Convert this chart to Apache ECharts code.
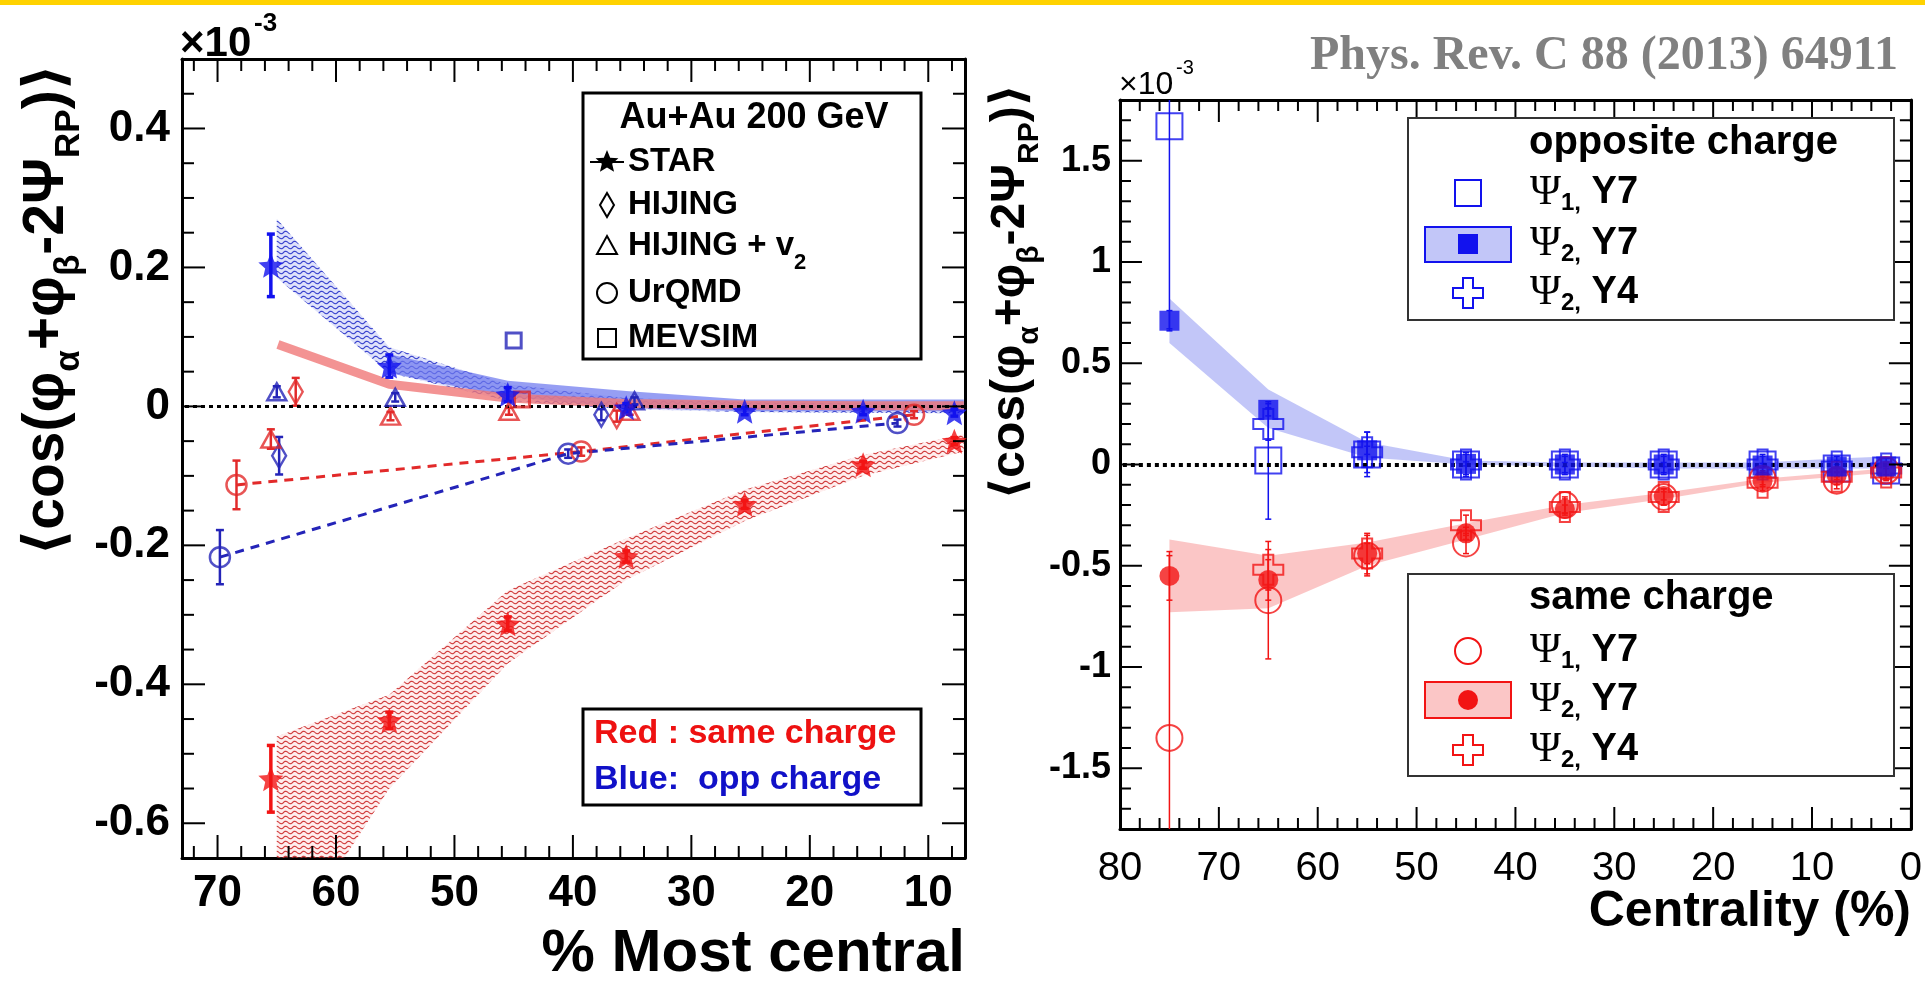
<!DOCTYPE html>
<html>
<head>
<meta charset="utf-8">
<title>charge dependent correlator vs centrality</title>
<script src="https://cdn.jsdelivr.net/npm/echarts@6/dist/echarts.min.js"></script>
<style>
html, body { margin: 0; padding: 0; background: #fff; }
#chart { width: 1925px; height: 989px; }
</style>
</head>
<body>
<div id="chart"></div>
<script>
var FONT = '"Liberation Sans", "DejaVu Sans", Arial, sans-serif';
var SERIF = '"Liberation Serif", "DejaVu Serif", serif';
var RED = '#f21414', BLUE = '#1212ee', NAVY = '#2424b8', DRED = '#e22a2a';

// ---------- left panel: Au+Au 200 GeV, values x1e-3 ----------
var leftXRange = [6.9, 73];
var leftYRange = [-0.65, 0.5];
var leftXMajor = [10, 20, 30, 40, 50, 60, 70];
var leftXMinor = [8, 12, 14, 16, 18, 22, 24, 26, 28, 32, 34, 36, 38, 42, 44, 46, 48, 52, 54, 56, 58, 62, 64, 66, 68, 72];
var leftYMajor = [-0.6, -0.4, -0.2, 0, 0.2, 0.4];
var leftYMinor = [-0.55, -0.5, -0.45, -0.35, -0.3, -0.25, -0.15, -0.1, -0.05, 0.05, 0.1, 0.15, 0.25, 0.3, 0.35, 0.45];

// [% most central, value, stat error]
var starSame = [[65.5, -0.536, 0.048], [55.5, -0.452, 0.012], [45.5, -0.313, 0.010], [35.5, -0.216, 0.008], [25.5, -0.141, 0.006], [15.5, -0.084, 0.005], [7.8, -0.050, 0.005]];
var starOpp = [[65.5, 0.203, 0.045], [55.5, 0.058, 0.016], [45.5, 0.017, 0.010], [35.5, -0.002, 0.006], [25.5, -0.007, 0.005], [15.5, -0.007, 0.005], [7.8, -0.009, 0.005]];
var hijingSame = [[63.4, 0.021, 0.020], [36.3, -0.014, 0.008]];
var hijingOpp = [[64.8, -0.071, 0.027], [37.6, -0.012, 0.008]];
var hijingV2Same = [[65.5, -0.047, 0.014], [55.4, -0.014, 0.006], [45.4, -0.007, 0.005], [35.2, -0.007, 0.005]];
var hijingV2Opp = [[65.0, 0.021, 0.008], [55.0, 0.013, 0.006], [34.8, 0.008, 0.005]];
var urqmdSame = [[68.4, -0.113, 0.035], [39.3, -0.065, 0.006], [11.2, -0.012, 0.005]];
var urqmdOpp = [[69.8, -0.217, 0.039], [40.4, -0.068, 0.006], [12.6, -0.024, 0.005]];
var mevsimSame = [[44.3, 0.010, 0.006]];
var mevsimOpp = [[45.0, 0.095, 0.008]];

// STAR systematic bands
var starSysX = [65, 55.5, 45.5, 35.5, 25.5, 15.5, 7];
var starSameSysHi = [-0.475, -0.415, -0.265, -0.19, -0.12, -0.07, -0.04];
var starSameSysLo = [-0.80, -0.55, -0.37, -0.25, -0.165, -0.10, -0.065];
var starOppSysHi = [0.27, 0.085, 0.032, 0.012, 0.006, 0.004, 0.003];
var starOppSysLo = [0.185, 0.048, 0.008, -0.004, -0.008, -0.009, -0.010];
var oppBandX = [55.5, 45.5, 35.5, 25.5, 15.5, 7];
var oppBandHi = [0.075, 0.037, 0.022, 0.010, 0.010, 0.010];
var oppBandLo = [0.048, 0.014, -0.002, -0.007, -0.007, -0.007];
var sameLineX = [64.9, 55.5, 45.5, 35.5, 25.5, 15.5, 7];
var sameLineY = [0.089, 0.032, 0.012, 0.004, 0.002, 0.001, 0.001];

// ---------- right panel: centrality (%), values x1e-3 ----------
var rightXRange = [0, 80];
var rightYRange = [-1.8, 1.8];
var rightXMajor = [0, 10, 20, 30, 40, 50, 60, 70, 80];
var rightXMinor = [2, 4, 6, 8, 12, 14, 16, 18, 22, 24, 26, 28, 32, 34, 36, 38, 42, 44, 46, 48, 52, 54, 56, 58, 62, 64, 66, 68, 72, 74, 76, 78];
var rightYMajor = [-1.5, -1, -0.5, 0, 0.5, 1, 1.5];
var rightYMinor = [-1.7, -1.6, -1.4, -1.3, -1.2, -1.1, -0.9, -0.8, -0.7, -0.6, -0.4, -0.3, -0.2, -0.1, 0.1, 0.2, 0.3, 0.4, 0.6, 0.7, 0.8, 0.9, 1.1, 1.2, 1.3, 1.4, 1.6, 1.7];
var cent = [75, 65, 55, 45, 35, 25, 15, 7.5, 2.5];
var centY4 = [65, 55, 45, 35, 25, 15, 7.5, 2.5];
var oppPsi1 = [1.67, 0.02, 0.05, 0.0, 0.0, 0.0, 0.0, -0.02, -0.03];
var oppPsi1Err = [1.0, 0.29, 0.11, 0.05, 0.04, 0.04, 0.04, 0.04, 0.04];
var oppPsi2 = [0.71, 0.27, 0.07, 0.003, 0.0, 0.0, -0.005, -0.01, -0.01];
var oppPsi2Err = [0.05, 0.03, 0.02, 0.01, 0.01, 0.01, 0.01, 0.01, 0.01];
var oppY4 = [0.2, 0.06, 0.0, 0.0, 0.0, 0.0, -0.01, -0.02];
var oppY4Err = [0.08, 0.1, 0.06, 0.05, 0.05, 0.05, 0.05, 0.05];
var samePsi1 = [-1.35, -0.67, -0.45, -0.39, -0.2, -0.16, -0.07, -0.08, -0.03];
var samePsi1Err = [0.9, 0.29, 0.1, 0.05, 0.04, 0.04, 0.04, 0.04, 0.04];
var samePsi2 = [-0.55, -0.57, -0.44, -0.34, -0.22, -0.155, -0.08, -0.054, -0.03];
var samePsi2Err = [0.12, 0.1, 0.05, 0.03, 0.02, 0.02, 0.02, 0.02, 0.02];
var sameY4 = [-0.52, -0.44, -0.30, -0.21, -0.16, -0.09, -0.06, -0.04];
var sameY4Err = [0.1, 0.1, 0.05, 0.04, 0.04, 0.04, 0.04, 0.04];
var oppSysHi = [0.82, 0.37, 0.11, 0.02, 0.01, 0.01, 0.01, 0.03, 0.04];
var oppSysLo = [0.6, 0.18, 0.035, 0.0, -0.01, -0.02, -0.02, -0.02, -0.02];
var sameSysHi = [-0.37, -0.45, -0.385, -0.29, -0.2, -0.14, -0.07, -0.04, -0.02];
var sameSysLo = [-0.73, -0.71, -0.5, -0.37, -0.24, -0.17, -0.09, -0.06, -0.04];

var STAR_PATH = 'path://M0,-10L2.645,-3.64L9.51,-3.09L4.28,1.39L5.88,8.09L0,4.5L-5.88,8.09L-4.28,1.39L-9.51,-3.09L-2.645,-3.64Z';
var CROSS_PATH = 'path://M-1,-3L1,-3L1,-1L3,-1L3,1L1,1L1,3L-1,3L-1,1L-3,1L-3,-1L-1,-1Z';

// plot boxes in pixels
var LEFT_BOX = { left: 182, top: 59, width: 783, height: 799 };
var RIGHT_BOX = { left: 1120, top: 100, width: 792, height: 729 };

function wave(color) {
    var c = document.createElement('canvas');
    c.width = 9; c.height = 5;
    var g = c.getContext('2d');
    g.strokeStyle = color; g.lineWidth = 1.1;
    g.beginPath();
    for (var i = 0; i <= 9; i++) {
        var yy = 2.5 + 1.3 * Math.sin(i / 9 * Math.PI * 2);
        if (i === 0) g.moveTo(i, yy); else g.lineTo(i, yy);
    }
    g.stroke();
    return c;
}
var redWave = { image: wave('rgba(200,30,30,0.85)'), repeat: 'repeat' };
var blueWave = { image: wave('rgba(40,50,200,0.9)'), repeat: 'repeat' };

function zip(xs, ys, es) {
    return xs.map(function (x, i) { return [x, ys[i], es ? es[i] : 0]; });
}
function xy(pts) { return pts.map(function (p) { return [p[0], p[1]]; }); }

// ---------- axes: frame line on every side, labels on bottom/left ----------
function axis(grid, pos, range, inv, vals, label) {
    var a = {
        type: 'value', gridIndex: grid, position: pos, min: range[0], max: range[1], inverse: inv,
        axisLine: { show: true, onZero: false, lineStyle: { color: '#000', width: 3 } },
        splitLine: { show: false }, axisTick: { show: false }, axisLabel: { show: false }
    };
    if (label) a.axisLabel = Object.assign({ show: true, customValues: vals, color: '#000', fontFamily: FONT }, label);
    return a;
}
var xAxes = [
    axis(0, 'bottom', leftXRange, true, leftXMajor, { fontSize: 44, fontWeight: 'bold', margin: 14 }),
    axis(0, 'top', leftXRange, true, leftXMajor),
    axis(1, 'bottom', rightXRange, true, rightXMajor, { fontSize: 40, margin: 20 }),
    axis(1, 'top', rightXRange, true, rightXMajor)
];
var yAxes = [
    axis(0, 'left', leftYRange, false, leftYMajor, { fontSize: 44, fontWeight: 'bold', margin: 12 }),
    axis(0, 'right', leftYRange, false, leftYMajor),
    axis(1, 'left', rightYRange, false, rightYMajor, { fontSize: 36, fontWeight: 'bold', margin: 9 }),
    axis(1, 'right', rightYRange, false, rightYMajor)
];

// ---------- series helpers (panel p uses xAxis/yAxis index 2p) ----------
function band(panel, xs, lo, hi, fills, z) {
    return {
        type: 'custom', xAxisIndex: panel * 2, yAxisIndex: panel * 2, clip: true, silent: true, z: z,
        data: xs.map(function (x, i) { return [x, lo[i], hi[i]]; }),
        renderItem: function (params, api) {
            if (params.dataIndexInside !== 0) return null;
            var n = params.dataInsideLength, pts = [], i;
            for (i = 0; i < n; i++) pts.push(api.coord([api.value(0, i), api.value(2, i)]));
            for (i = n - 1; i >= 0; i--) pts.push(api.coord([api.value(0, i), api.value(1, i)]));
            return {
                type: 'group',
                children: fills.map(function (f) {
                    return { type: 'polygon', shape: { points: pts }, style: { fill: f, stroke: null } };
                })
            };
        }
    };
}
// vertical bars [x, y, half-height]
function errBars(panel, pts, color, w, cap, z) {
    return {
        type: 'custom', xAxisIndex: panel * 2, yAxisIndex: panel * 2, clip: true, silent: true, z: z,
        data: pts,
        renderItem: function (params, api) {
            var x = api.value(0), y = api.value(1), e = api.value(2);
            var cs = params.coordSys;
            var p1 = api.coord([x, y + e]), p2 = api.coord([x, y - e]);
            var top = Math.max(p1[1], cs.y), bot = Math.min(p2[1], cs.y + cs.height);
            var ch = [{ type: 'line', shape: { x1: p1[0], y1: top, x2: p1[0], y2: bot }, style: { stroke: color, lineWidth: w } }];
            if (cap) {
                if (p1[1] >= cs.y) ch.push({ type: 'line', shape: { x1: p1[0] - cap, y1: p1[1], x2: p1[0] + cap, y2: p1[1] }, style: { stroke: color, lineWidth: w } });
                if (p2[1] <= cs.y + cs.height) ch.push({ type: 'line', shape: { x1: p2[0] - cap, y1: p2[1], x2: p2[0] + cap, y2: p2[1] }, style: { stroke: color, lineWidth: w } });
            }
            return { type: 'group', children: ch };
        }
    };
}
// horizontal bars [x, y, half-width]
function hBars(panel, pts, color, w, z) {
    return {
        type: 'custom', xAxisIndex: panel * 2, yAxisIndex: panel * 2, clip: true, silent: true, z: z,
        data: pts,
        renderItem: function (params, api) {
            var x = api.value(0), y = api.value(1), e = api.value(2);
            var p1 = api.coord([x - e, y]), p2 = api.coord([x + e, y]);
            return { type: 'group', children: [{ type: 'line', shape: { x1: p1[0], y1: p1[1], x2: p2[0], y2: p2[1] }, style: { stroke: color, lineWidth: w } }] };
        }
    };
}
// inward frame ticks on all four sides, expressed in data units of the panel
function tickSeries(panel, box, xr, yr, xMaj, xMin, yMaj, yMin, majLen, minLen) {
    var xu = (xr[1] - xr[0]) / box.width, yu = (yr[1] - yr[0]) / box.height;
    var vt = [], ht = [];
    function xt(v, len) { var h = len * yu / 2; vt.push([v, yr[0] + h, h]); vt.push([v, yr[1] - h, h]); }
    function yt(v, len) { var h = len * xu / 2; ht.push([xr[0] + h, v, h]); ht.push([xr[1] - h, v, h]); }
    xMaj.forEach(function (v) { xt(v, majLen); });
    xMin.forEach(function (v) { xt(v, minLen); });
    yMaj.forEach(function (v) { yt(v, majLen); });
    yMin.forEach(function (v) { yt(v, minLen); });
    return [errBars(panel, vt, '#000', 2, 0, 20), hBars(panel, ht, '#000', 2, 20)];
}
function marks(panel, pts, symbol, size, color, open, bw, z) {
    return {
        type: 'scatter', xAxisIndex: panel * 2, yAxisIndex: panel * 2, silent: true, z: z,
        symbol: symbol, symbolSize: size,
        itemStyle: open ? { color: 'rgba(255,255,255,0)', borderColor: color, borderWidth: bw } : { color: color },
        data: xy(pts)
    };
}
function zeroLine(panel, width, dash) {
    return {
        type: 'line', xAxisIndex: panel * 2, yAxisIndex: panel * 2, data: [], silent: true, z: 3,
        markLine: {
            silent: true, symbol: 'none', label: { show: false },
            lineStyle: { color: '#000', width: width, type: dash },
            data: [{ yAxis: 0 }]
        }
    };
}

var oppP1 = zip(cent, oppPsi1, oppPsi1Err), oppP2 = zip(cent, oppPsi2, oppPsi2Err), oppC4 = zip(centY4, oppY4, oppY4Err);
var samP1 = zip(cent, samePsi1, samePsi1Err), samP2 = zip(cent, samePsi2, samePsi2Err), samC4 = zip(centY4, sameY4, sameY4Err);

var series = [
    // left panel
    band(0, starSysX, starSameSysLo, starSameSysHi, ['rgba(255,170,170,0.2)', redWave], 1),
    band(0, starSysX, starOppSysLo, starOppSysHi, ['rgba(140,150,240,0.28)', blueWave], 1),
    band(0, oppBandX, oppBandLo, oppBandHi, ['rgba(110,120,238,0.72)'], 2),
    { type: 'line', xAxisIndex: 0, yAxisIndex: 0, silent: true, z: 2, symbol: 'none', data: xy(zip(sameLineX, sameLineY)),
      lineStyle: { color: 'rgba(240,120,120,0.8)', width: 9 } },
    zeroLine(0, 3, [4, 4]),
    { type: 'line', xAxisIndex: 0, yAxisIndex: 0, silent: true, z: 3, symbol: 'none', data: xy(urqmdSame), lineStyle: { color: DRED, width: 3, type: [9, 7] } },
    { type: 'line', xAxisIndex: 0, yAxisIndex: 0, silent: true, z: 3, symbol: 'none', data: xy(urqmdOpp), lineStyle: { color: NAVY, width: 3, type: [9, 7] } },
    errBars(0, starSame, RED, 3.5, 4, 4), errBars(0, starOpp, BLUE, 3.5, 4, 4),
    errBars(0, hijingSame, DRED, 2.5, 4, 4), errBars(0, hijingOpp, NAVY, 2.5, 4, 4),
    errBars(0, hijingV2Same, DRED, 2.5, 4, 4), errBars(0, hijingV2Opp, NAVY, 2.5, 4, 4),
    errBars(0, urqmdSame, DRED, 2.5, 4, 4), errBars(0, urqmdOpp, NAVY, 2.5, 4, 4),
    marks(0, hijingSame, 'diamond', [14, 24], DRED, true, 2.5, 5),
    marks(0, hijingOpp, 'diamond', [14, 24], NAVY, true, 2.5, 5),
    marks(0, hijingV2Same, 'triangle', [19, 17], DRED, true, 2.5, 5),
    marks(0, hijingV2Opp, 'triangle', [19, 17], NAVY, true, 2.5, 5),
    marks(0, urqmdSame, 'circle', 20, DRED, true, 2.5, 5),
    marks(0, urqmdOpp, 'circle', 20, NAVY, true, 2.5, 5),
    marks(0, mevsimSame, 'rect', 15, DRED, true, 3, 5),
    marks(0, mevsimOpp, 'rect', 15, NAVY, true, 3, 5),
    marks(0, starSame, STAR_PATH, 25, RED, false, 0, 6),
    marks(0, starOpp, STAR_PATH, 25, BLUE, false, 0, 6),
    // right panel
    band(1, cent, oppSysLo, oppSysHi, ['rgba(120,128,240,0.45)'], 1),
    band(1, cent, sameSysLo, sameSysHi, ['rgba(245,120,120,0.42)'], 1),
    zeroLine(1, 4, [4, 4]),
    errBars(1, oppP1, BLUE, 1.5, 3, 4), errBars(1, oppP2, BLUE, 1.5, 3, 4), errBars(1, oppC4, BLUE, 1.5, 3, 4),
    errBars(1, samP1, RED, 1.5, 3, 4), errBars(1, samP2, RED, 1.5, 3, 4), errBars(1, samC4, RED, 1.5, 3, 4),
    marks(1, oppP1, 'rect', 26, BLUE, true, 2, 5),
    marks(1, oppC4, CROSS_PATH, 30, BLUE, true, 2, 5),
    marks(1, samP1, 'circle', 26, RED, true, 2, 5),
    marks(1, samC4, CROSS_PATH, 30, RED, true, 2, 5),
    marks(1, samP2, 'circle', 20, RED, false, 0, 6),
    marks(1, oppP2, 'rect', 20, BLUE, false, 0, 6)
].concat(
    tickSeries(0, LEFT_BOX, leftXRange, leftYRange, leftXMajor, leftXMinor, leftYMajor, leftYMinor, 23, 12),
    tickSeries(1, RIGHT_BOX, rightXRange, rightYRange, rightXMajor, rightXMinor, rightYMajor, rightYMinor, 22, 11)
);

// ---------- text, legends ----------
function txt(x, y, text, font, fill, align, extra) {
    return Object.assign({ type: 'text', x: x, y: y, z: 101,
        style: { text: text, font: font, fill: fill || '#000', align: align || 'left', verticalAlign: 'middle' } }, extra || {});
}
function starPts(cx, cy, r) {
    var p = [];
    for (var k = 0; k < 10; k++) {
        var a = -Math.PI / 2 + k * Math.PI / 5, rr = k % 2 ? r * 0.45 : r;
        p.push([cx + rr * Math.cos(a), cy + rr * Math.sin(a)]);
    }
    return p;
}
function crossPts(cx, cy, s) {
    var a = s / 6, b = s / 2;
    return [[cx - a, cy - b], [cx + a, cy - b], [cx + a, cy - a], [cx + b, cy - a], [cx + b, cy + a], [cx + a, cy + a],
            [cx + a, cy + b], [cx - a, cy + b], [cx - a, cy + a], [cx - b, cy + a], [cx - b, cy - a], [cx - a, cy - a]];
}
var B33 = 'bold 33px ' + FONT;
var open = function (c, w) { return { fill: 'none', stroke: c, lineWidth: w }; };
var psiRich = {
    p: { fontFamily: SERIF, fontSize: 42, lineHeight: 44 },
    s: { fontFamily: FONT, fontWeight: 'bold', fontSize: 24, lineHeight: 24, verticalAlign: 'top', padding: [20, 0, 0, 0] },
    t: { fontFamily: FONT, fontWeight: 'bold', fontSize: 38, lineHeight: 44 }
};
function psiRow(x, y, n, year) {
    return { type: 'text', x: x, y: y, z: 101,
        style: { text: '{p|Ψ}{s|' + n + ',}{t| ' + year + '}', rich: psiRich, fill: '#000', verticalAlign: 'middle' } };
}
var titleRich = function (fs) {
    return {
        n: { fontFamily: FONT, fontWeight: 'bold', fontSize: fs, lineHeight: fs + 4 },
        s: { fontFamily: FONT, fontWeight: 'bold', fontSize: Math.round(fs * 0.62), lineHeight: Math.round(fs * 0.62), verticalAlign: 'top', padding: [Math.round(fs * 0.62), 0, 0, 0] }
    };
};
var TITLE = '{n|⟨cos(φ}{s|α}{n|+φ}{s|β}{n|-2Ψ}{s|RP}{n|)⟩}';

var graphic = [
    { type: 'rect', shape: { x: 0, y: 0, width: 1925, height: 5 }, style: { fill: '#ffd200' }, z: 100 },
    txt(1898, 57, 'Phys. Rev. C 88 (2013) 64911', 'bold 48px ' + SERIF, '#808080', 'right'),
    // axis titles and exponents
    { type: 'text', x: 47, y: 310, rotation: Math.PI / 2, z: 101,
      style: { text: TITLE, rich: titleRich(57), fill: '#000', align: 'center', verticalAlign: 'middle' } },
    { type: 'text', x: 1011, y: 292, rotation: Math.PI / 2, z: 101,
      style: { text: TITLE, rich: titleRich(48), fill: '#000', align: 'center', verticalAlign: 'middle' } },
    txt(180, 44, '×10', 'bold 42px ' + FONT),
    txt(254, 24, '-3', 'bold 26px ' + FONT),
    txt(1119, 85, '×10', '32px ' + FONT),
    txt(1176, 68, '-3', '20px ' + FONT),
    txt(965, 954, '% Most central', 'bold 60px ' + FONT, '#000', 'right'),
    txt(1911, 912, 'Centrality (%)', 'bold 50px ' + FONT, '#000', 'right'),
    // left legend (models)
    { type: 'rect', shape: { x: 583, y: 93, width: 338, height: 266 }, style: { fill: '#fff', stroke: '#000', lineWidth: 3 }, z: 100 },
    txt(754, 118, 'Au+Au 200 GeV', 'bold 36px ' + FONT, '#000', 'center'),
    { type: 'polygon', shape: { points: starPts(607, 162, 12) }, style: { fill: '#000' }, z: 101 },
    { type: 'rect', shape: { x: 590, y: 161, width: 34, height: 2 }, style: { fill: '#000' }, z: 101 },
    txt(628, 162, 'STAR', B33),
    { type: 'polygon', shape: { points: [[607, 193], [614, 205], [607, 217], [600, 205]] }, style: open('#000', 2), z: 101 },
    txt(628, 205, 'HIJING', B33),
    { type: 'polygon', shape: { points: [[607, 236], [617, 254], [597, 254]] }, style: open('#000', 2), z: 101 },
    { type: 'text', x: 628, y: 246, z: 101, style: { text: '{b|HIJING + v}{s|2}', fill: '#000', verticalAlign: 'middle',
      rich: { b: { font: B33, lineHeight: 36 }, s: { font: 'bold 22px ' + FONT, lineHeight: 22, verticalAlign: 'top', padding: [24, 0, 0, 0] } } } },
    { type: 'circle', shape: { cx: 607, cy: 293, r: 10 }, style: open('#000', 2), z: 101 },
    txt(628, 293, 'UrQMD', B33),
    { type: 'rect', shape: { x: 598, y: 329, width: 18, height: 18 }, style: open('#000', 2), z: 101 },
    txt(628, 338, 'MEVSIM', B33),
    // left legend (colours)
    { type: 'rect', shape: { x: 583, y: 709, width: 338, height: 96 }, style: { fill: '#fff', stroke: '#000', lineWidth: 3 }, z: 100 },
    txt(594, 734, 'Red : same charge', 'bold 34px ' + FONT, '#ee1111'),
    txt(594, 780, 'Blue:  opp charge', 'bold 34px ' + FONT, '#1111c8'),
    // right legend: opposite charge
    { type: 'rect', shape: { x: 1408, y: 118, width: 486, height: 202 }, style: { fill: '#fff', stroke: '#333', lineWidth: 2 }, z: 100 },
    txt(1529, 143, 'opposite charge', 'bold 40px ' + FONT),
    { type: 'rect', shape: { x: 1455, y: 180, width: 26, height: 26 }, style: open(BLUE, 2), z: 101 },
    psiRow(1530, 193, 1, 'Y7'),
    { type: 'rect', shape: { x: 1425, y: 227, width: 86, height: 35 }, style: { fill: 'rgba(120,128,240,0.45)', stroke: BLUE, lineWidth: 2 }, z: 101 },
    { type: 'rect', shape: { x: 1458, y: 234, width: 20, height: 20 }, style: { fill: BLUE }, z: 102 },
    psiRow(1530, 244, 2, 'Y7'),
    { type: 'polygon', shape: { points: crossPts(1468, 293, 30) }, style: open(BLUE, 2), z: 101 },
    psiRow(1530, 293, 2, 'Y4'),
    // right legend: same charge
    { type: 'rect', shape: { x: 1408, y: 574, width: 486, height: 202 }, style: { fill: '#fff', stroke: '#333', lineWidth: 2 }, z: 100 },
    txt(1529, 598, 'same charge', 'bold 40px ' + FONT),
    { type: 'circle', shape: { cx: 1468, cy: 651, r: 13 }, style: open(RED, 2), z: 101 },
    psiRow(1530, 651, 1, 'Y7'),
    { type: 'rect', shape: { x: 1425, y: 682, width: 86, height: 36 }, style: { fill: 'rgba(245,120,120,0.42)', stroke: RED, lineWidth: 2 }, z: 101 },
    { type: 'circle', shape: { cx: 1468, cy: 700, r: 10 }, style: { fill: RED }, z: 102 },
    psiRow(1530, 700, 2, 'Y7'),
    { type: 'polygon', shape: { points: crossPts(1468, 750, 30) }, style: open(RED, 2), z: 101 },
    psiRow(1530, 750, 2, 'Y4')
];

var chart = echarts.init(document.getElementById('chart'));
chart.setOption({
    animation: false,
    backgroundColor: '#fff',
    grid: [LEFT_BOX, RIGHT_BOX],
    xAxis: xAxes,
    yAxis: yAxes,
    series: series,
    graphic: graphic
});
</script>
</body>
</html>
